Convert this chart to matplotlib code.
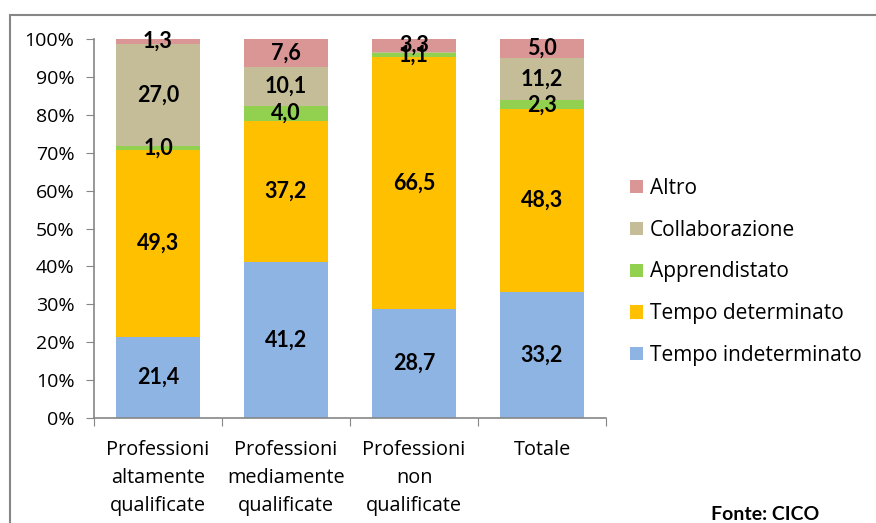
import matplotlib
matplotlib.use("Agg")
import matplotlib.pyplot as plt
from matplotlib.patches import Rectangle, Patch
import numpy as np

plt.rcParams['font.family'] = ['Open Sans', 'DejaVu Sans']

categories = ["Professioni\naltamente\nqualificate", "Professioni\nmediamente\nqualificate",
              "Professioni\nnon\nqualificate", "Totale"]
series_names = ["Tempo indeterminato", "Tempo determinato", "Apprendistato", "Collaborazione", "Altro"]
tempo_indeterminato = [21.4, 41.2, 28.7, 33.2]
tempo_determinato = [49.3, 37.2, 66.5, 48.3]
apprendistato = [1.0, 4.0, 1.1, 2.3]
collaborazione = [27.0, 10.1, 0.4, 11.2]
altro = [1.3, 7.6, 3.3, 5.0]
show_label = [[True]*4, [True]*4, [True]*4, [True, True, False, True], [True]*4]
colors = ["#8EB4E3", "#FFC000", "#92D050", "#C4BD97", "#D99694"]
yticks = [0, 10, 20, 30, 40, 50, 60, 70, 80, 90, 100]

series = [tempo_indeterminato, tempo_determinato, apprendistato, collaborazione, altro]

fig = plt.figure(figsize=(8.76, 5.23), dpi=100)
ax = fig.add_axes([94/876, 1-418/523, (606-94)/876, (418-39)/523])

x = np.arange(len(categories))
bottom = np.zeros(len(categories))
for i, (vals, col) in enumerate(zip(series, colors)):
    vals = np.array(vals)
    ax.bar(x, vals, 0.66, bottom=bottom, color=col, label=series_names[i], zorder=2)
    for j, v in enumerate(vals):
        if show_label[i][j]:
            ax.text(x[j], bottom[j] + v/2, f"{v:.1f}".replace(".", ","), ha='center', va='center',
                    fontsize=15.5, fontweight='bold', color='black', zorder=3,
                    family=['Lato', 'DejaVu Sans'])
    bottom += vals

ax.set_xlim(-0.5, 3.5)
ax.set_ylim(0, 100)
ax.set_yticks(yticks)
ax.set_yticklabels([f"{t}%" for t in yticks], fontsize=14)
ax.set_xticks(np.arange(-0.5, 4, 1))
ax.set_xticklabels([])
ax.set_xticks(x, minor=True)
ax.set_xticklabels(categories, minor=True, fontsize=14.3, linespacing=1.52)
ax.tick_params(axis='x', which='minor', length=0, pad=16)
ax.tick_params(axis='x', which='major', length=6, color='#868686', direction='out')
ax.tick_params(axis='y', length=6, color='#868686', direction='out', pad=8)
for s in ['top', 'right']:
    ax.spines[s].set_visible(False)
for s in ['left', 'bottom']:
    ax.spines[s].set_color('#868686')
    ax.spines[s].set_linewidth(1.2)

handles = [Patch(facecolor=c, edgecolor='none') for c in colors][::-1]
fig.legend(handles, series_names[::-1], loc='center left', bbox_to_anchor=(630/876, 1-272/523),
           frameon=False, fontsize=15, handlelength=0.6, handleheight=0.6, handletextpad=0.35,
           labelspacing=1.0, borderpad=0, borderaxespad=0)

fig.add_artist(Rectangle((10/876, -0.1), 1.0, 0.1 + (1-15/523), transform=fig.transFigure,
                         fill=False, edgecolor='#868686', linewidth=1.5))
fig.text(765/876, 1-515/523, "Fonte: CICO", ha='center', va='center', fontsize=14, fontweight='bold',
         family=['Lato', 'DejaVu Sans'])

fig.savefig("out.png", dpi=100)
